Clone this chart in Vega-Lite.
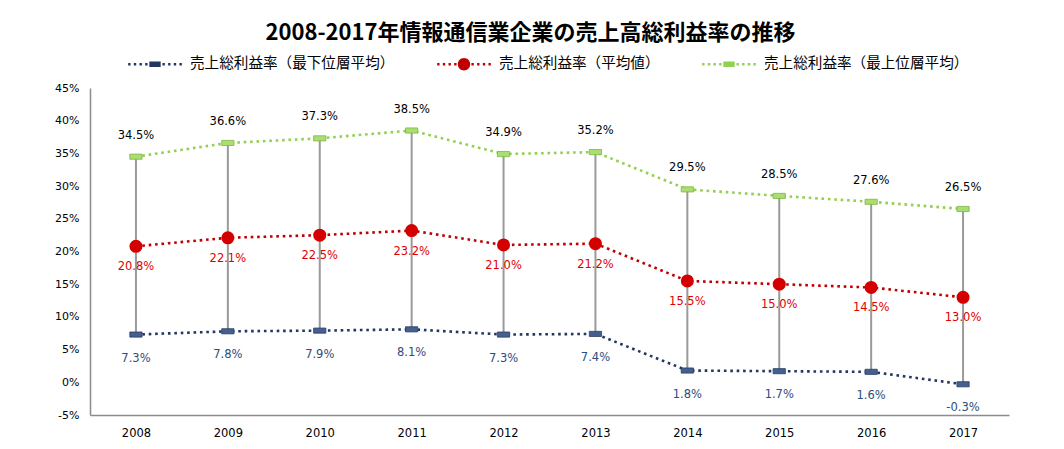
{
  "$schema": "https://vega.github.io/schema/vega-lite/v6.json",
  "autosize": {"type": "none"},
  "width": 919,
  "height": 327,
  "padding": {"left": 90, "top": 88, "right": 55, "bottom": 34},
  "background": "white",
  "title": {
    "text": "2008-2017年情報通信業企業の売上高総利益率の推移",
    "font": "Noto Sans CJK JP",
    "fontWeight": "bold",
    "fontSize": 22,
    "color": "#000000",
    "anchor": "middle",
    "dx": -19,
    "offset": -8
  },
  "config": {
    "locale": {"number": {"decimal": ".", "thousands": ",", "grouping": [3], "currency": ["$", ""], "minus": "-"}},
    "view": {"stroke": null},
    "axis": {"grid": false, "ticks": false, "domainColor": "#8c8c8c", "domainWidth": 1.5, "labelFont": "DejaVu Sans", "labelFontSize": 11, "labelColor": "#000000", "title": null, "labelOverlap": false}
  },
  "data": {
    "values": [
      {"year": "2008", "series": "売上総利益率（最下位層平均）", "value": 0.073},
      {"year": "2009", "series": "売上総利益率（最下位層平均）", "value": 0.078},
      {"year": "2010", "series": "売上総利益率（最下位層平均）", "value": 0.079},
      {"year": "2011", "series": "売上総利益率（最下位層平均）", "value": 0.081},
      {"year": "2012", "series": "売上総利益率（最下位層平均）", "value": 0.073},
      {"year": "2013", "series": "売上総利益率（最下位層平均）", "value": 0.074},
      {"year": "2014", "series": "売上総利益率（最下位層平均）", "value": 0.018},
      {"year": "2015", "series": "売上総利益率（最下位層平均）", "value": 0.017},
      {"year": "2016", "series": "売上総利益率（最下位層平均）", "value": 0.016},
      {"year": "2017", "series": "売上総利益率（最下位層平均）", "value": -0.003},
      {"year": "2008", "series": "売上総利益率（平均値）", "value": 0.208},
      {"year": "2009", "series": "売上総利益率（平均値）", "value": 0.221},
      {"year": "2010", "series": "売上総利益率（平均値）", "value": 0.225},
      {"year": "2011", "series": "売上総利益率（平均値）", "value": 0.232},
      {"year": "2012", "series": "売上総利益率（平均値）", "value": 0.210},
      {"year": "2013", "series": "売上総利益率（平均値）", "value": 0.212},
      {"year": "2014", "series": "売上総利益率（平均値）", "value": 0.155},
      {"year": "2015", "series": "売上総利益率（平均値）", "value": 0.150},
      {"year": "2016", "series": "売上総利益率（平均値）", "value": 0.145},
      {"year": "2017", "series": "売上総利益率（平均値）", "value": 0.130},
      {"year": "2008", "series": "売上総利益率（最上位層平均）", "value": 0.345},
      {"year": "2009", "series": "売上総利益率（最上位層平均）", "value": 0.366},
      {"year": "2010", "series": "売上総利益率（最上位層平均）", "value": 0.373},
      {"year": "2011", "series": "売上総利益率（最上位層平均）", "value": 0.385},
      {"year": "2012", "series": "売上総利益率（最上位層平均）", "value": 0.349},
      {"year": "2013", "series": "売上総利益率（最上位層平均）", "value": 0.352},
      {"year": "2014", "series": "売上総利益率（最上位層平均）", "value": 0.295},
      {"year": "2015", "series": "売上総利益率（最上位層平均）", "value": 0.285},
      {"year": "2016", "series": "売上総利益率（最上位層平均）", "value": 0.276},
      {"year": "2017", "series": "売上総利益率（最上位層平均）", "value": 0.265}
    ]
  },
  "encoding": {
    "x": {
      "field": "year", "type": "ordinal",
      "scale": {"type": "point", "padding": 0.5},
      "axis": {"labelAngle": 0, "labelPadding": 12, "labelFontSize": 11.5}
    },
    "y": {"field": "value", "type": "quantitative",
      "scale": {"domain": [-0.05, 0.45], "nice": false, "zero": false},
      "axis": {"format": ".0%", "values": [-0.05, 0, 0.05, 0.1, 0.15, 0.2, 0.25, 0.3, 0.35, 0.4, 0.45], "labelPadding": 11, "labelOverlap": false, "labelFlush": false}}
  },
  "layer": [
    {
      "mark": {"type": "rule", "color": "#9a9a9a", "strokeWidth": 2},
      "encoding": {
        "y": {"aggregate": "min", "field": "value", "type": "quantitative"},
        "y2": {"aggregate": "max", "field": "value"}
      }
    },
    {
      "transform": [{"filter": "datum.series === '売上総利益率（最下位層平均）'"}],
      "mark": {"type": "line", "strokeWidth": 2.6, "strokeDash": [2.6, 3.8], "color": "#22375f"},
      "encoding": {}
    },
    {
      "transform": [{"filter": "datum.series === '売上総利益率（平均値）'"}],
      "mark": {"type": "line", "strokeWidth": 2.6, "strokeDash": [2.6, 3.8], "color": "#c00000"},
      "encoding": {}
    },
    {
      "transform": [{"filter": "datum.series === '売上総利益率（最上位層平均）'"}],
      "mark": {"type": "line", "strokeWidth": 2.6, "strokeDash": [2.6, 3.8], "color": "#92d050"},
      "encoding": {}
    },
    {
      "transform": [{"filter": "datum.series === '売上総利益率（最下位層平均）'"}],
      "mark": {"type": "point", "filled": true, "opacity": 1, "size": 150, "shape": "M-1,-0.42L1,-0.42L1,0.42L-1,0.42Z", "fill": "#44608f", "stroke": "#2a3f66", "strokeWidth": 0.8},
      "encoding": {}
    },
    {
      "transform": [{"filter": "datum.series === '売上総利益率（最上位層平均）'"}],
      "mark": {"type": "point", "filled": true, "opacity": 1, "size": 150, "shape": "M-1,-0.42L1,-0.42L1,0.42L-1,0.42Z", "fill": "#a9de70", "stroke": "#7fb446", "strokeWidth": 0.8},
      "encoding": {}
    },
    {
      "transform": [{"filter": "datum.series === '売上総利益率（平均値）'"}],
      "mark": {"type": "circle", "opacity": 1, "size": 170, "color": "#d40000"},
      "encoding": {}
    },
    {
      "transform": [{"filter": "datum.series === '売上総利益率（最上位層平均）'"}],
      "mark": {"type": "text", "dy": -21, "font": "DejaVu Sans", "fontSize": 11.5, "color": "#000000"},
      "encoding": {"text": {"field": "value", "type": "quantitative", "format": ".1%"}}
    },
    {
      "transform": [{"filter": "datum.series === '売上総利益率（平均値）'"}],
      "mark": {"type": "text", "dy": 21, "font": "DejaVu Sans", "fontSize": 11.5, "color": "#e00000"},
      "encoding": {"text": {"field": "value", "type": "quantitative", "format": ".1%"}}
    },
    {
      "transform": [{"filter": "datum.series === '売上総利益率（最下位層平均）'"}],
      "mark": {"type": "text", "dy": 24, "font": "DejaVu Sans", "fontSize": 11.5, "color": "#2c4d7e"},
      "encoding": {"text": {"field": "value", "type": "quantitative", "format": ".1%"}}
    },
    {
      "transform": [{"filter": "false"}],
      "mark": {"type": "point", "filled": true},
      "encoding": {
        "color": {"field": "series", "type": "nominal",
          "scale": {"domain": ["売上総利益率（最下位層平均）", "売上総利益率（平均値）", "売上総利益率（最上位層平均）"], "range": ["#22375f", "#c00000", "#92d050"]},
          "legend": {"orient": "none", "legendX": 38, "legendY": -51, "direction": "horizontal", "title": null,
            "symbolSize": 2916, "symbolStrokeWidth": 0, "symbolOpacity": 1, "labelFont": "Noto Sans CJK JP", "labelFontSize": 14.6, "labelColor": "#000000",
            "labelOffset": 8, "columnPadding": 42, "padding": 0, "labelLimit": 400}},
        "shape": {"field": "series", "type": "nominal",
          "legend": {"orient": "none", "legendX": 38, "legendY": -51, "direction": "horizontal", "title": null,
            "symbolSize": 2916, "symbolStrokeWidth": 0, "symbolOpacity": 1, "labelFont": "Noto Sans CJK JP", "labelFontSize": 14.6, "labelColor": "#000000",
            "labelOffset": 8, "columnPadding": 42, "padding": 0, "labelLimit": 400},
          "scale": {"domain": ["売上総利益率（最下位層平均）", "売上総利益率（平均値）", "売上総利益率（最上位層平均）"],
            "range": [
              "M-0.994,-0.044h0.088v0.088h-0.088zM-0.784,-0.044h0.088v0.088h-0.088zM-0.574,-0.044h0.088v0.088h-0.088zM-0.364,-0.044h0.088v0.088h-0.088zM0.276,-0.044h0.088v0.088h-0.088zM0.486,-0.044h0.088v0.088h-0.088zM0.696,-0.044h0.088v0.088h-0.088zM0.906,-0.044h0.088v0.088h-0.088zM-0.21,-0.1h0.42v0.2h-0.42z",
              "M-0.994,-0.044h0.088v0.088h-0.088zM-0.784,-0.044h0.088v0.088h-0.088zM-0.574,-0.044h0.088v0.088h-0.088zM-0.364,-0.044h0.088v0.088h-0.088zM0.276,-0.044h0.088v0.088h-0.088zM0.486,-0.044h0.088v0.088h-0.088zM0.696,-0.044h0.088v0.088h-0.088zM0.906,-0.044h0.088v0.088h-0.088zM0.23,0A0.23,0.23,0,1,1,-0.23,0A0.23,0.23,0,1,1,0.23,0z",
              "M-0.994,-0.044h0.088v0.088h-0.088zM-0.784,-0.044h0.088v0.088h-0.088zM-0.574,-0.044h0.088v0.088h-0.088zM-0.364,-0.044h0.088v0.088h-0.088zM0.276,-0.044h0.088v0.088h-0.088zM0.486,-0.044h0.088v0.088h-0.088zM0.696,-0.044h0.088v0.088h-0.088zM0.906,-0.044h0.088v0.088h-0.088zM-0.21,-0.1h0.42v0.2h-0.42z"
            ]}}
      }
    }
  ]
}
